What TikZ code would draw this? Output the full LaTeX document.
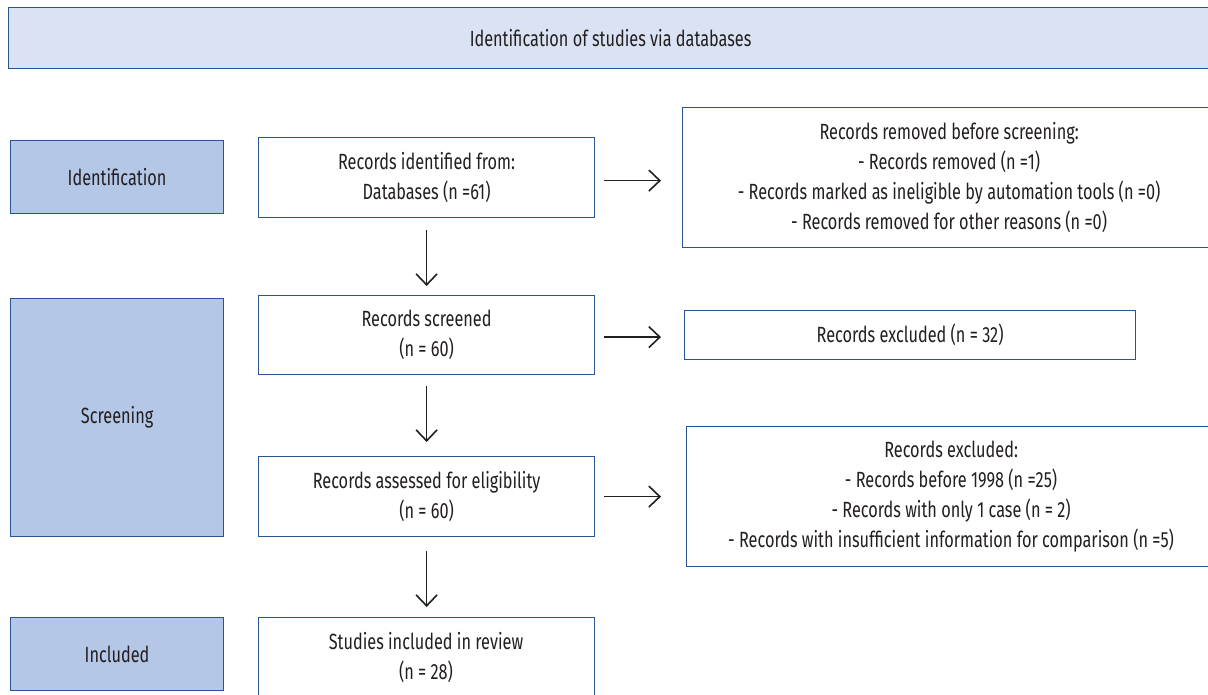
\documentclass[tikz,border=0pt]{standalone}
\usepackage{fontspec}
\setmainfont[FakeStretch=0.74]{Fira Sans}
\usetikzlibrary{arrows.meta}
\definecolor{boxline}{HTML}{2B5592}
\definecolor{bannerfill}{HTML}{DAE3F3}
\definecolor{stagefill}{HTML}{B4C7E7}
\definecolor{inktext}{HTML}{231F20}
\begin{document}
\begin{tikzpicture}[
    x=1pt, y=-1pt,
    font=\fontsize{22}{30}\selectfont,
    every node/.style={text=inktext},
    banner/.style={rectangle, draw=boxline, fill=bannerfill, line width=1.2pt, anchor=north west, inner sep=0pt},
    stage/.style={rectangle, draw=boxline, fill=stagefill, line width=1.2pt, anchor=north west, inner sep=0pt, minimum width=213pt},
    record/.style={rectangle, draw=boxline, fill=white, line width=1.2pt, anchor=north west, inner sep=0pt, align=center},
    flow/.style={line width=1.6pt, inktext, -{Straight Barb[length=11pt, width=21pt, line width=1.6pt]}}
  ]
    \useasboundingbox (0,0) rectangle (1208,695);

    % Banner
    \node[banner, minimum width=1204pt, minimum height=61pt] (head) at (8,7) {Identification of studies via databases};

    % Stages
    \node[stage, minimum height=73pt] (ident) at (10,140) {Identification};
    \node[stage, minimum height=238pt] (screen) at (10,298) {Screening};
    \node[stage, minimum height=73pt] (incl) at (10,617) {Included};

    % Main records
    \node[record, minimum width=336pt, minimum height=80pt] (found) at (258,137) {Records identified from:\\Databases (n =61)};
    \node[record, minimum width=336pt, minimum height=79pt] (screened) at (258,295) {Records screened\\(n = 60)};
    \node[record, minimum width=336pt, minimum height=80pt] (assessed) at (258,456) {Records assessed for eligibility\\(n = 60)};
    \node[record, minimum width=336pt, minimum height=90pt] (studies) at (258,617) {};
    \node[align=center] (studiestext) at (426,658) {Studies included in review\\(n = 28)};

    % Removed and excluded
    \node[record, minimum width=533pt, minimum height=140pt] (removed) at (682,107) {Records removed before screening:\\- Records removed (n =1)\\- Records marked as ineligible by automation tools (n =0)\\- Records removed for other reasons (n =0)};
    \node[record, minimum width=451pt, minimum height=49pt] (excl) at (684,310) {Records excluded (n = 32)};
    \node[record, minimum width=529pt, minimum height=140pt] (reasons) at (686,426) {Records excluded:\\- Records before 1998 (n =25)\\- Records with only 1 case (n = 2)\\- Records with insufficient information for comparison (n =5)};

    % Arrows
    \draw[flow, shorten <=9pt, shorten >=21pt] ([yshift=-3pt]found.east) -- ([yshift=-3pt]found.east -| removed.west);
    \draw[flow, shorten <=9pt, shorten >=23pt] ([yshift=-2pt]screened.east) -- ([yshift=-2pt]screened.east -| excl.west);
    \draw[flow, shorten <=9pt, shorten >=25pt] (assessed.east) -- (assessed.east -| reasons.west);
    \draw[flow, shorten <=12pt, shorten >=9pt] (found) -- (screened);
    \draw[flow, shorten <=11pt, shorten >=14pt] (screened) -- (assessed);
    \draw[flow, shorten <=14pt, shorten >=10pt] (assessed) -- (studies.north);
\end{tikzpicture}
\end{document}
